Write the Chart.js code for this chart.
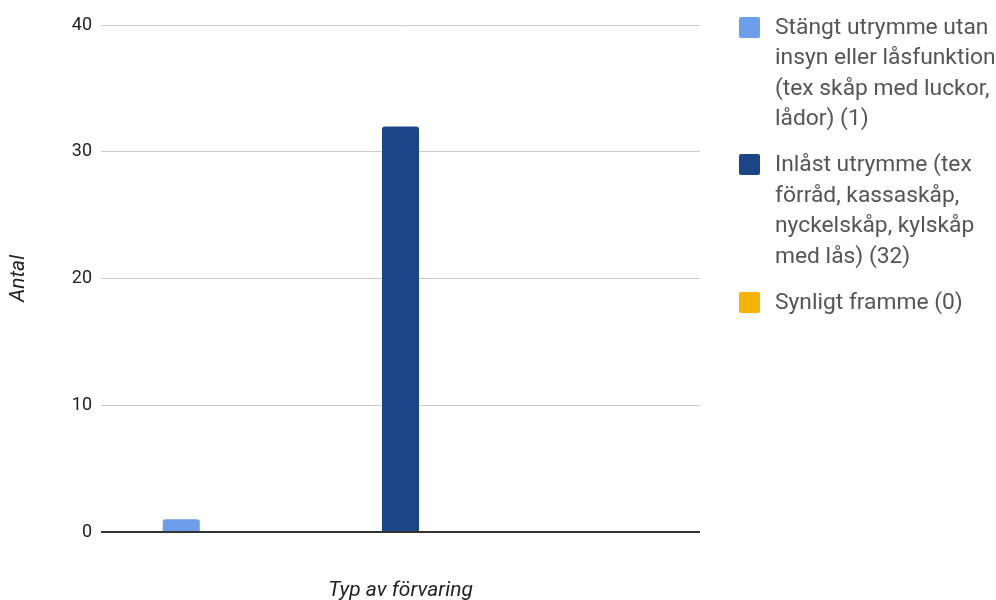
<!DOCTYPE html>
<html lang="sv">
<head>
  <meta charset="UTF-8" />
  <title>Typ av förvaring</title>
  <script src="https://cdn.jsdelivr.net/npm/chart.js"></script>
  <style>
    html, body { margin: 0; padding: 0; background: #fff; }
    #wrap { position: relative; width: 996px; height: 600px; }
    #chart { position: absolute; left: 0; top: 0; }
    #legend {
      position: absolute; left: 739px; top: 11.75px;
      font-family: Roboto, sans-serif; font-size: 22.8px; line-height: 30.5px; color: #555;
    }
    .item { position: relative; padding-left: 36px; margin-bottom: 15.5px; white-space: nowrap; }
    .item .box { position: absolute; left: 0; top: 5px; width: 21px; height: 21px; border-radius: 2px; }
  </style>
</head>
<body>
  <div id="wrap">
    <canvas id="chart" width="996" height="600"></canvas>
    <div id="legend"></div>
  </div>

  <script>
    // storage types, one line per legend row
    const categories = [
      ['Stängt utrymme utan', 'insyn eller låsfunktion', '(tex skåp med luckor,', 'lådor)'],
      ['Inlåst utrymme (tex', 'förråd, kassaskåp,', 'nyckelskåp, kylskåp', 'med lås)'],
      ['Synligt framme']
    ];
    const counts = [1, 32, 0];
    const colors = ['#6d9eeb', '#1c4587', '#f4b400'];
    const yTicks = [0, 10, 20, 30, 40];

    // legend on the right
    const legend = document.getElementById('legend');
    categories.forEach((lines, i) => {
      const item = document.createElement('div');
      item.className = 'item';
      const text = lines.slice();
      text[text.length - 1] += ` (${counts[i]})`;
      item.innerHTML = `<span class="box" style="background:${colors[i]}"></span>` + text.join('<br>');
      legend.appendChild(item);
    });

    const datasets = categories.map((lines, i) => ({
      label: lines.join(' '),
      data: [counts[i]],
      backgroundColor: colors[i],
      borderRadius: 3,
      categoryPercentage: 1.098,
      barPercentage: 0.169
    }));

    const titleFont = { family: 'Roboto', size: 21, style: 'italic' };

    new Chart(document.getElementById('chart'), {
      type: 'bar',
      data: { labels: [''], datasets: datasets },
      options: {
        responsive: false,
        animation: false,
        layout: { padding: { top: 25, right: 296, left: 0, bottom: 0 } },
        plugins: { legend: { display: false }, tooltip: { enabled: false } },
        scales: {
          x: {
            grid: { display: false },
            border: { display: false },
            ticks: { display: false },
            title: { display: true, text: 'Typ av förvaring', font: titleFont, color: '#222', padding: { top: 0, bottom: -3 } },
            afterFit: s => { s.height = 68; }
          },
          y: {
            min: yTicks[0],
            max: yTicks[yTicks.length - 1],
            afterBuildTicks: s => { s.ticks = yTicks.map(v => ({ value: v })); },
            ticks: { font: { family: 'Roboto', size: 18 }, color: '#222', padding: 9 },
            grid: {
              drawTicks: false,
              color: c => c.tick && c.tick.value === 0 ? '#333' : '#ccc',
              lineWidth: c => c.tick && c.tick.value === 0 ? 2 : 1
            },
            border: { display: false },
            title: { display: true, text: 'Antal', font: titleFont, color: '#222', padding: { top: 6, bottom: 0 } },
            afterFit: s => { s.width = 101; }
          }
        }
      }
    });
  </script>
</body>
</html>
